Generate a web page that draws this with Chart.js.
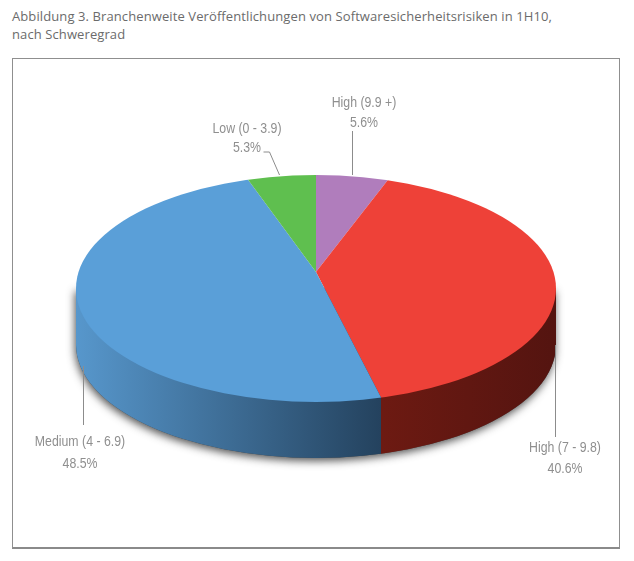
<!DOCTYPE html>
<html>
<head>
<meta charset="utf-8">
<title>Softwaresicherheitsrisiken</title>
<script src="https://cdn.jsdelivr.net/npm/chart.js@4"></script>
<style>
    html, body { margin: 0; padding: 0; background: #fff; overflow: hidden; }
    #page { position: relative; width: 634px; height: 561px; }
    #chartTitle { position: absolute; left: 12px; top: 7px; font: 13px/18px "Open Sans", sans-serif; letter-spacing: 0.1px; color: #6b6b6b; white-space: nowrap; }
    #frame { position: absolute; left: 12px; top: 58px; width: 606px; height: 488px; border: 1px solid #8f8f8f; border-bottom: 2px solid #8a8a8a; }
    #severityChart { position: absolute; left: 0; top: 0; }
</style>
</head>
<body>
<div id="page">
    <div id="chartTitle">Abbildung 3. Branchenweite Veröffentlichungen von Softwaresicherheitsrisiken in 1H10,<br>nach Schweregrad</div>
    <div id="frame"></div>
    <canvas id="severityChart" width="634" height="561"></canvas>
</div>
<script>
const categories = ['High (9.9 +)', 'High (7 - 9.8)', 'Medium (4 - 6.9)', 'Low (0 - 3.9)'];
const shares = [5.6, 40.6, 48.5, 5.3];
const sliceColors = ['#b07dbc', '#ee4138', '#5a9fd8', '#5fbf4f'];

// top face of the disc, the apex sits above the middle because of the perspective
const face = { cx: 316, cy: 288.5, rx: 240, ry: 113.5, depth: 56 };
const apex = { x: 316, y: 272, squash: 0.47 };

// label anchors and leader lines next to the disc
const labelSpots = [
    { x: 364, y: 107, gap: 20, line: [[352, 131], [352, 175]] },
    { x: 565, y: 452, gap: 21, line: [[555, 345], [555, 437]] },
    { x: 80, y: 446, gap: 22, line: [[83, 366], [83, 425]] },
    { x: 247, y: 133, gap: 19, line: [[263, 152], [269, 152], [279, 175]] }
];

// where a slice edge leaves the tilted ellipse
function rimX(angle) {
    const dx = Math.cos(angle);
    const dy = Math.sin(angle) * apex.squash;
    const oy = apex.y - face.cy;
    const a = dx * dx / (face.rx * face.rx) + dy * dy / (face.ry * face.ry);
    const b = 2 * dy * oy / (face.ry * face.ry);
    const c = oy * oy / (face.ry * face.ry) - 1;
    const t = (-b + Math.sqrt(b * b - 4 * a * c)) / (2 * a);
    return apex.x + t * dx;
}

function wallPath(ctx) {
    const left = face.cx - face.rx;
    const right = face.cx + face.rx;
    ctx.beginPath();
    ctx.moveTo(left, face.cy);
    ctx.lineTo(left, face.cy + face.depth);
    ctx.ellipse(face.cx, face.cy + face.depth, face.rx, face.ry, 0, Math.PI, 0, true);
    ctx.lineTo(right, face.cy);
    ctx.closePath();
}

function wallSlice(ctx, x0, x1, colorFrom, colorTo) {
    const gradient = ctx.createLinearGradient(x0, 0, x1, 0);
    gradient.addColorStop(0, colorFrom);
    gradient.addColorStop(1, colorTo);
    ctx.save();
    ctx.beginPath();
    ctx.rect(x0, 0, x1 - x0, 561);
    ctx.clip();
    wallPath(ctx);
    ctx.fillStyle = gradient;
    ctx.fill();
    ctx.restore();
}

// narrow grey labels, the installed fonts have no condensed cut
function narrowText(ctx, text, x, y) {
    ctx.fillText(text, x, y, ctx.measureText(text).width * 0.88);
}

const discPlugin = {
    id: 'disc',
    beforeDatasetsDraw(chart) {
        const ctx = chart.ctx;
        const arcs = chart.getDatasetMeta(0).data;
        const splitX = rimX(arcs[1].endAngle);

        ctx.save();
        ctx.shadowColor = 'rgba(40, 40, 40, 0.8)';
        ctx.shadowBlur = 8;
        ctx.shadowOffsetX = -1;
        ctx.shadowOffsetY = 3;
        wallPath(ctx);
        ctx.fillStyle = '#444';
        ctx.fill();
        ctx.restore();

        wallSlice(ctx, face.cx - face.rx, splitX, '#5797cc', '#24425e');
        wallSlice(ctx, splitX, face.cx + face.rx, '#6d1a12', '#541410');

        // squash the library's arcs onto the top face
        const arc = arcs[0];
        ctx.save();
        ctx.beginPath();
        ctx.ellipse(face.cx, face.cy, face.rx, face.ry, 0, 0, Math.PI * 2);
        ctx.clip();
        ctx.translate(apex.x, apex.y);
        ctx.scale(1, apex.squash);
        ctx.translate(-arc.x, -arc.y);
    },
    afterDatasetsDraw(chart) {
        const ctx = chart.ctx;
        ctx.restore();

        ctx.strokeStyle = '#8c8c8c';
        ctx.lineWidth = 1;
        labelSpots.forEach(function (spot) {
            ctx.beginPath();
            spot.line.forEach(function (p, i) {
                if (i === 0) ctx.moveTo(p[0] + 0.5, p[1]);
                else ctx.lineTo(p[0] + 0.5, p[1]);
            });
            ctx.stroke();
        });

        ctx.fillStyle = '#8f8f8f';
        ctx.font = '14px "Liberation Sans", sans-serif';
        ctx.textAlign = 'center';
        ctx.textBaseline = 'alphabetic';
        categories.forEach(function (name, i) {
            const spot = labelSpots[i];
            narrowText(ctx, name, spot.x, spot.y);
            narrowText(ctx, shares[i].toFixed(1) + '%', spot.x, spot.y + spot.gap);
        });
    }
};

new Chart(document.getElementById('severityChart'), {
    type: 'pie',
    data: {
        labels: categories,
        datasets: [{
            data: shares,
            backgroundColor: sliceColors,
            borderWidth: 0
        }]
    },
    options: {
        responsive: false,
        animation: false,
        plugins: {
            legend: { display: false },
            tooltip: { enabled: false }
        }
    },
    plugins: [discPlugin]
});
</script>
</body>
</html>
